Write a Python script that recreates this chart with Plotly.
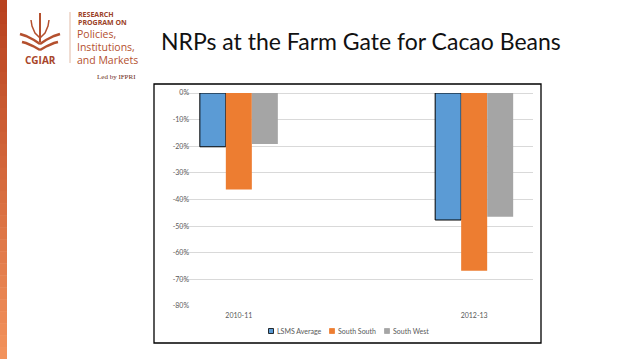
import plotly.graph_objects as go

# ---- data ----
categories = ["2010-11", " ", "2012-13"]
lsms_average = [-0.202, None, -0.477]
south_south = [-0.362, None, -0.668]
south_west = [-0.192, None, -0.465]
series_names = ["LSMS Average", "South South", "South West"]
series_colors = ["#5B9BD5", "#ED7D31", "#A5A5A5"]
y_tick_vals = [0, -0.1, -0.2, -0.3, -0.4, -0.5, -0.6, -0.7, -0.8]
y_tick_text = ["0%", "-10%", "-20%", "-30%", "-40%", "-50%", "-60%", "-70%", "-80%"]
title_text = "NRPs at the Farm Gate for Cacao Beans"

W, H = 638, 359
L, R, T, B = 180, 533, 93, 306

def px(x):
    return (x - L) / (R - L)

def py(y):
    return (B - y) / (B - T)

fig = go.Figure()
fig.add_trace(go.Bar(x=categories, y=lsms_average, name=series_names[0],
                     marker=dict(color=series_colors[0], line=dict(color="#000000", width=1))))
fig.add_trace(go.Bar(x=categories, y=south_south, name=series_names[1],
                     marker=dict(color=series_colors[1], line=dict(width=0))))
fig.add_trace(go.Bar(x=categories, y=south_west, name=series_names[2],
                     marker=dict(color=series_colors[2], line=dict(width=0))))

shapes = []
# chart border
shapes.append(dict(type="rect", xref="paper", yref="paper",
                   x0=px(154), x1=px(541), y0=py(343), y1=py(84),
                   line=dict(color="#000000", width=1.3), fillcolor="rgba(0,0,0,0)", layer="below"))
# left gradient strip
n = 30
c0 = (184, 66, 31)
c1 = (242, 146, 92)
for i in range(n):
    t = i / (n - 1)
    c = tuple(int(c0[k] + (c1[k] - c0[k]) * t) for k in range(3))
    shapes.append(dict(type="rect", xref="paper", yref="paper",
                       x0=px(0), x1=px(7), y0=py(H * i / n), y1=py(H * (i + 1) / n + 0.5),
                       line=dict(width=0), fillcolor="rgb(%d,%d,%d)" % c, layer="below"))
# logo divider
shapes.append(dict(type="line", xref="paper", yref="paper",
                   x0=px(70), x1=px(70), y0=py(12), y1=py(63),
                   line=dict(color="#d9a890", width=0.8)))
# simple logo emblem
logo_col = "#b4502e"
def path_px(pts):
    s = "M %f %f" % (px(pts[0][0]), py(pts[0][1]))
    for p in pts[1:]:
        s += " L %f %f" % (px(p[0]), py(p[1]))
    return s
shapes.append(dict(type="line", xref="paper", yref="paper", x0=px(40), x1=px(40),
                   y0=py(13), y1=py(42), line=dict(color=logo_col, width=2)))
for side in (-1, 1):
    shapes.append(dict(type="path", xref="paper", yref="paper",
                       path=path_px([(40, 44), (40 + side * 6, 40), (40 + side * 14, 36), (40 + side * 20, 34)]),
                       line=dict(color=logo_col, width=2.5)))
    shapes.append(dict(type="path", xref="paper", yref="paper",
                       path=path_px([(40, 50), (40 + side * 7, 46), (40 + side * 14, 43), (40 + side * 18, 42)]),
                       line=dict(color=logo_col, width=2.5)))
    shapes.append(dict(type="path", xref="paper", yref="paper",
                       path=path_px([(40, 38), (40 + side * 5, 33), (40 + side * 8, 26), (40 + side * 9, 20)]),
                       line=dict(color=logo_col, width=1.5)))

annotations = [
    dict(text=title_text, xref="paper", yref="paper", x=px(159), y=py(41),
         xanchor="left", yanchor="middle", showarrow=False,
         font=dict(family="Lato", size=23, color="#111111")),
    dict(text="<b>RESEARCH</b>", xref="paper", yref="paper", x=px(76), y=py(14),
         xanchor="left", yanchor="middle", showarrow=False,
         font=dict(family="Open Sans", size=7, color="#9c4227")),
    dict(text="<b>PROGRAM ON</b>", xref="paper", yref="paper", x=px(76), y=py(23),
         xanchor="left", yanchor="middle", showarrow=False,
         font=dict(family="Open Sans", size=7, color="#9c4227")),
    dict(text="Policies,", xref="paper", yref="paper", x=px(75), y=py(34),
         xanchor="left", yanchor="middle", showarrow=False,
         font=dict(family="Open Sans", size=10.5, color=logo_col)),
    dict(text="Institutions,", xref="paper", yref="paper", x=px(75), y=py(47),
         xanchor="left", yanchor="middle", showarrow=False,
         font=dict(family="Open Sans", size=10.5, color=logo_col)),
    dict(text="and Markets", xref="paper", yref="paper", x=px(75), y=py(60),
         xanchor="left", yanchor="middle", showarrow=False,
         font=dict(family="Open Sans", size=10.5, color=logo_col)),
    dict(text="Led by IFPRI", xref="paper", yref="paper", x=px(138), y=py(77),
         xanchor="right", yanchor="middle", showarrow=False,
         font=dict(family="Liberation Serif", size=7, color="#6b2a16")),
    dict(text="<b>CGIAR</b>", xref="paper", yref="paper", x=px(40), y=py(60),
         xanchor="center", yanchor="middle", showarrow=False,
         font=dict(family="Open Sans", size=10, color="#a8452a")),
]

# custom legend (small squares like the reference)
legend_x = [271, 332, 387]
for name, col, lx, i in zip(series_names, series_colors, legend_x, range(3)):
    shapes.append(dict(type="rect", xref="paper", yref="paper",
                       x0=px(lx - 2.5), x1=px(lx + 2.5), y0=py(333.5), y1=py(328.5),
                       fillcolor=col,
                       line=dict(color="#000000" if i == 0 else col, width=0.8)))
    annotations.append(dict(text=name, xref="paper", yref="paper", x=px(lx + 4), y=py(331),
                            xanchor="left", yanchor="middle", showarrow=False,
                            font=dict(family="Lato", size=7, color="#595959")))

fig.update_layout(
    width=W, height=H,
    margin=dict(l=L, r=W - R, t=T, b=H - B, pad=0, autoexpand=False),
    paper_bgcolor="#ffffff", plot_bgcolor="#ffffff",
    barmode="group", bargap=0.337, bargroupgap=0,
    font=dict(family="Lato", size=7, color="#595959"),
    showlegend=False,
    shapes=shapes, annotations=annotations,
)
fig.update_xaxes(type="category", categoryorder="array", categoryarray=categories,
                 showgrid=False, zeroline=False, showline=False, ticks="",
                 ticklabelstandoff=4,
                 tickfont=dict(family="Lato", size=7, color="#595959"))
fig.update_yaxes(range=[-0.8, 0], tickvals=y_tick_vals, ticktext=y_tick_text,
                 showgrid=True, gridcolor="#d9d9d9", gridwidth=1, zeroline=True,
                 zerolinecolor="#d9d9d9", zerolinewidth=1, showline=False, ticks="",
                 ticklabelstandoff=-10,
                 tickfont=dict(family="Lato", size=7, color="#595959"))

fig.write_html("out.html", config={"displayModeBar": False},
               post_script="document.body.style.margin='0px';document.body.style.overflow='hidden';")
